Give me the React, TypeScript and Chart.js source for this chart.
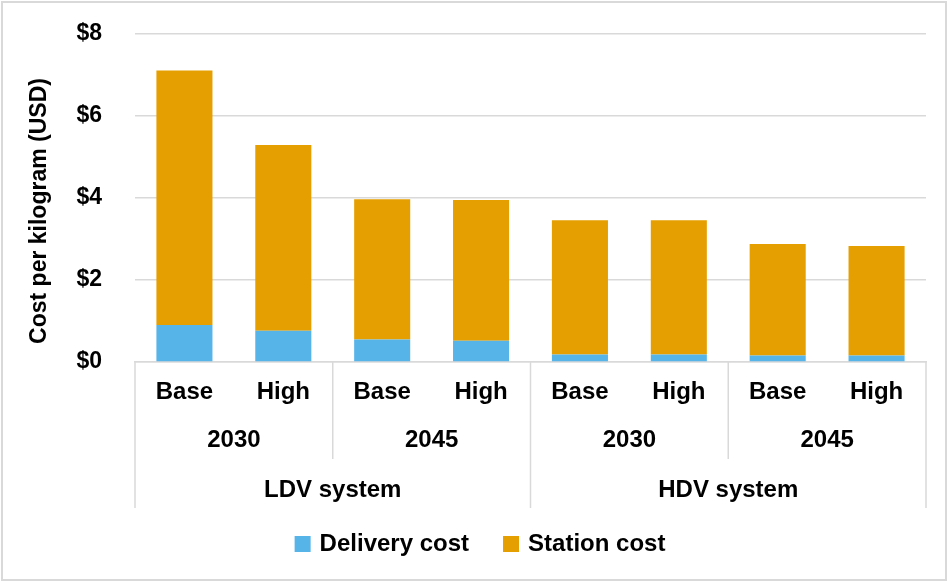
import React, { useEffect, useRef } from 'react';
import { Chart, registerables } from 'chart.js';

Chart.register(...registerables);

const scenarios = ['Base', 'High', 'Base', 'High', 'Base', 'High', 'Base', 'High'];
const years = ['2030', '2045', '2030', '2045'];
const systems = ['LDV system', 'HDV system'];
const seriesNames = ['Delivery cost', 'Station cost'];
const deliveryCost = [0.9, 0.76, 0.55, 0.52, 0.18, 0.18, 0.16, 0.16];
const stationCost = [6.21, 4.53, 3.42, 3.43, 3.28, 3.28, 2.72, 2.67];
const yTickValues = [0, 2, 4, 6, 8];
const yTitle = 'Cost per kilogram (USD)';

const FONT = '"Liberation Sans", Arial, Helvetica, sans-serif';
const GRID = '#d9d9d9';
const BLUE = '#56B4E9';
const ORANGE = '#E69F00';

const customPlugin = {
  id: 'customDecor',
  beforeDraw(chart: any) {
    const { ctx, width, height } = chart;
    ctx.save();
    ctx.fillStyle = '#ffffff';
    ctx.fillRect(0, 0, width, height);
    ctx.strokeStyle = GRID;
    ctx.lineWidth = 2;
    ctx.strokeRect(2, 2, width - 4, height - 4);
    ctx.restore();
  },
  afterDraw(chart: any) {
    const { ctx, chartArea } = chart;
    const x = chart.scales.x;
    const n = scenarios.length;
    const c = (i: number) => x.getPixelForValue(i);
    const edge = (i: number) =>
      i === 0 ? chartArea.left : i === n ? chartArea.right : (c(i - 1) + c(i)) / 2;
    const b = chartArea.bottom;
    const perYear = n / years.length;
    const perSys = n / systems.length;

    ctx.save();
    ctx.strokeStyle = GRID;
    ctx.lineWidth = 1.5;
    for (let i = 0; i <= n; i += perYear) {
      const outer = i % perSys === 0;
      const xx = edge(i);
      ctx.beginPath();
      ctx.moveTo(xx, b);
      ctx.lineTo(xx, b + (outer ? 146 : 97));
      ctx.stroke();
    }

    ctx.fillStyle = '#000000';
    ctx.textAlign = 'center';
    ctx.textBaseline = 'middle';
    ctx.font = `bold 24px ${FONT}`;
    scenarios.forEach((s, i) => ctx.fillText(s, c(i), b + 30));
    years.forEach((y, j) =>
      ctx.fillText(y, (edge(j * perYear) + edge((j + 1) * perYear)) / 2, b + 78)
    );
    systems.forEach((s, j) =>
      ctx.fillText(s, (edge(j * perSys) + edge((j + 1) * perSys)) / 2, b + 128)
    );

    // y axis title
    ctx.save();
    ctx.translate(40, (chartArea.top + chartArea.bottom) / 2 + 13);
    ctx.rotate(-Math.PI / 2);
    ctx.font = `bold 23px ${FONT}`;
    ctx.fillText(yTitle, 0, 0);
    ctx.restore();

    // legend
    ctx.font = `bold 24px ${FONT}`;
    ctx.textAlign = 'left';
    const box = 16;
    const gapText = 9;
    const gapItem = 34;
    const widths = chart.data.datasets.map((d: any) => ctx.measureText(d.label).width);
    const total =
      widths.reduce((a: number, w: number) => a + box + gapText + w, 0) +
      gapItem * (widths.length - 1);
    let lx = 480 - total / 2;
    const ly = 544;
    chart.data.datasets.forEach((d: any, i: number) => {
      ctx.fillStyle = d.backgroundColor;
      ctx.fillRect(lx, ly - box / 2, box, box);
      ctx.fillStyle = '#000000';
      ctx.fillText(d.label, lx + box + gapText, ly);
      lx += box + gapText + widths[i] + gapItem;
    });
    ctx.restore();
  },
};

export default function App() {
  const ref = useRef<HTMLCanvasElement | null>(null);

  useEffect(() => {
    if (!ref.current) return;
    const chart = new Chart(ref.current, {
      type: 'bar',
      data: {
        labels: scenarios,
        datasets: [
          {
            label: seriesNames[0],
            data: deliveryCost,
            backgroundColor: BLUE,
            borderWidth: 0,
            categoryPercentage: 0.567,
            barPercentage: 1,
          },
          {
            label: seriesNames[1],
            data: stationCost,
            backgroundColor: ORANGE,
            borderWidth: 0,
            categoryPercentage: 0.567,
            barPercentage: 1,
          },
        ],
      },
      options: {
        responsive: false,
        animation: false,
        devicePixelRatio: 1,
        layout: { padding: { top: 34, right: 22, bottom: 70, left: 0 } },
        plugins: {
          legend: { display: false },
          tooltip: { enabled: false },
        },
        scales: {
          x: {
            stacked: true,
            grid: { display: false, drawTicks: false },
            border: { display: true, color: GRID, width: 1.5 },
            ticks: { display: false },
            afterFit: (scale: any) => {
              scale.height = 150;
            },
          },
          y: {
            stacked: true,
            min: 0,
            max: 8,
            grid: {
              color: GRID,
              lineWidth: 1.5,
              drawTicks: true,
              tickLength: 33,
              tickColor: 'rgba(0,0,0,0)',
            },
            border: { display: false },
            afterBuildTicks: (scale: any) => {
              scale.ticks = yTickValues.map((v) => ({ value: v }));
            },
            ticks: {
              padding: 0,
              color: '#000000',
              font: { family: FONT, size: 23, weight: 'bold' },
              callback: (v: any) => '$' + v,
            },
            afterFit: (scale: any) => {
              scale.width = 135;
            },
          },
        },
      },
      plugins: [customPlugin],
    });
    return () => chart.destroy();
  }, []);

  return (
    <div style={{ position: 'fixed', left: 0, top: 0, width: 948, height: 582, background: '#fff' }}>
      <canvas ref={ref} width={948} height={582} style={{ width: 948, height: 582, display: 'block' }} />
    </div>
  );
}
